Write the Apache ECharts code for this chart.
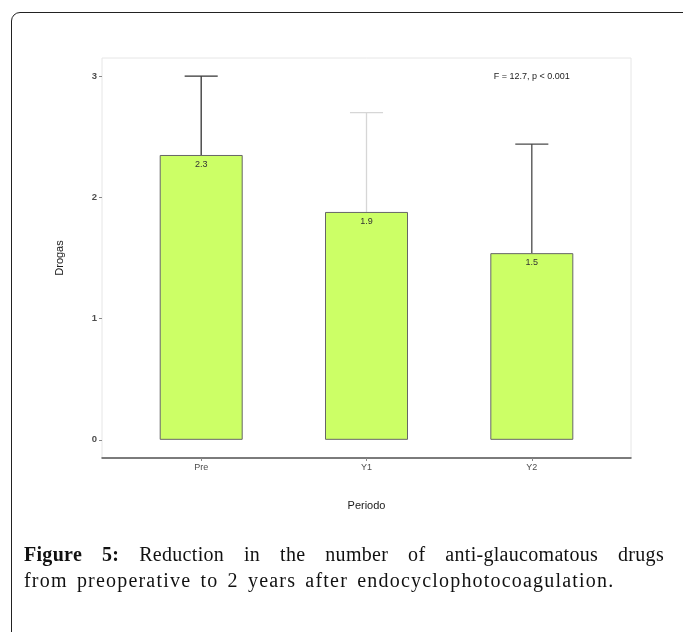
<!DOCTYPE html>
<html>
<head>
<meta charset="utf-8">
<script src="https://cdn.jsdelivr.net/npm/echarts@6/dist/echarts.min.js"></script>
<style>
  html, body { margin: 0; padding: 0; background: #fff; }
  #wrap { position: relative; width: 683px; height: 632px; overflow: hidden; }
  #frame { position: absolute; left: 11px; top: 12px; width: 700px; height: 700px;
           border: 1.5px solid #222; border-radius: 9px; box-sizing: border-box; }
  #chart { position: absolute; left: 0; top: 0; width: 683px; height: 632px; }
  .cap { position: absolute; left: 24px; width: 640px; white-space: nowrap;
         font-family: "Liberation Serif", "DejaVu Serif", serif; font-size: 20px;
         line-height: 26px; color: #111; letter-spacing: 1.2px; word-spacing: 3px; }
  #cap1 { top: 541px; text-align: justify; text-align-last: justify; white-space: normal; letter-spacing: 0.3px; word-spacing: 0; }
  #cap2 { top: 567px; }
  .cap b { font-weight: bold; }
</style>
</head>
<body>
<div id="wrap">
  <div id="frame"></div>
  <div id="chart"></div>
  <div class="cap" id="cap1"><b>Figure 5:</b> Reduction in the number of anti-glaucomatous drugs</div>
  <div class="cap" id="cap2">from preoperative to 2 years after endocyclophotocoagulation.</div>
</div>
<script>
// ---- data ----
const categories = ['Pre', 'Y1', 'Y2'];
const means = [2.35, 1.88, 1.54];
const upperErr = [3.0, 2.70, 2.44];
const valueLabels = ['2.3', '1.9', '1.5'];
const yTicks = [0, 1, 2, 3];
const annotation = 'F = 12.7, p < 0.001';
const annotationAt = [3, 3];

// ---- styles ----
const errColors = ['#333333', '#d6d6d6', '#4a4a4a'];
const barColor = '#ccff66';
const textColor = '#4d4d4d';
const font = '"Liberation Sans", Arial, sans-serif';

const xPos = categories.map((c, i) => i + 1);
const barData = xPos.map((x, i) => [x, means[i]]);
const errData = xPos.map((x, i) => [x, means[i], upperErr[i]]);

const chart = echarts.init(document.getElementById('chart'), null, { renderer: 'canvas' });
chart.setOption({
  animation: false,
  backgroundColor: 'transparent',
  grid: {
    left: 102, top: 58, width: 529, height: 400,
    show: true, borderColor: '#e6e6e6', borderWidth: 1, backgroundColor: '#fff'
  },
  xAxis: {
    type: 'value', min: 0.4, max: 3.6,
    name: 'Periodo', nameLocation: 'middle', nameGap: 42,
    nameTextStyle: { fontFamily: font, fontSize: 11, color: '#1a1a1a' },
    axisLine: { show: true, onZero: false, lineStyle: { color: '#555', width: 1.5 } },
    axisTick: { show: true, length: 3, lineStyle: { color: '#888' }, customValues: xPos },
    axisLabel: {
      customValues: xPos, margin: 5, fontFamily: font, fontSize: 9, color: textColor,
      formatter: v => categories[Math.round(v) - 1] || ''
    },
    splitLine: { show: false }
  },
  yAxis: {
    type: 'value', min: -0.15, max: 3.15,
    name: 'Drogas', nameLocation: 'middle', nameGap: 37, nameRotate: 90,
    nameTextStyle: { fontFamily: font, fontSize: 11, color: '#1a1a1a' },
    axisLine: { show: false },
    axisTick: { show: true, length: 3, lineStyle: { color: '#888' }, customValues: yTicks },
    axisLabel: { customValues: yTicks, margin: 5, fontFamily: font, fontSize: 9.5, color: textColor, fontWeight: 'bold' },
    splitLine: { show: false }
  },
  series: [
    {
      type: 'custom',
      z: 1,
      data: errData,
      renderItem: (params, api) => {
        const x = api.value(0), m = api.value(1), u = api.value(2);
        const p0 = api.coord([x, m]);
        const p1 = api.coord([x, u]);
        const cl = api.coord([x - 0.1, u]);
        const cr = api.coord([x + 0.1, u]);
        const color = errColors[params.dataIndex];
        return {
          type: 'group',
          children: [
            { type: 'line', shape: { x1: p0[0], y1: p0[1], x2: p1[0], y2: p1[1] },
              style: { stroke: color, lineWidth: 1.3 } },
            { type: 'line', shape: { x1: cl[0], y1: cl[1], x2: cr[0], y2: cr[1] },
              style: { stroke: color, lineWidth: 1.3 } }
          ]
        };
      }
    },
    {
      type: 'bar',
      z: 2,
      data: barData,
      barWidth: 83,
      itemStyle: { color: barColor, borderColor: '#666', borderWidth: 1 },
      label: {
        show: true, position: 'insideTop', distance: 5,
        fontFamily: font, fontSize: 9, color: '#333',
        formatter: p => valueLabels[p.dataIndex]
      }
    },
    {
      type: 'custom',
      z: 3,
      silent: true,
      data: [annotationAt],
      renderItem: (params, api) => {
        const p = api.coord([api.value(0), api.value(1)]);
        return {
          type: 'text',
          x: p[0], y: p[1],
          style: {
            text: annotation, x: 0, y: 0, align: 'center', verticalAlign: 'middle',
            font: '9px ' + font, fill: '#222'
          }
        };
      }
    }
  ]
});
</script>
</body>
</html>
